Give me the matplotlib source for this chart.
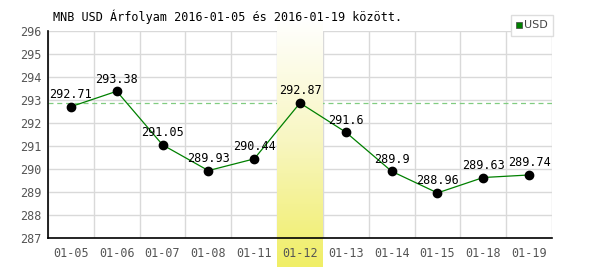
import numpy as np
import matplotlib
matplotlib.use("Agg")
import matplotlib.pyplot as plt
from matplotlib.colors import LinearSegmentedColormap
from matplotlib.patches import Rectangle

dates = ["01-05", "01-06", "01-07", "01-08", "01-11", "01-12",
         "01-13", "01-14", "01-15", "01-18", "01-19"]
rates = [292.71, 293.38, 291.05, 289.93, 290.44, 292.87,
         291.6, 289.9, 288.96, 289.63, 289.74]
labels = ["292.71", "293.38", "291.05", "289.93", "290.44", "292.87",
          "291.6", "289.9", "288.96", "289.63", "289.74"]
highlight = 5
yticks = [287, 288, 289, 290, 291, 292, 293, 294, 295, 296]

plt.rcParams['font.family'] = ['DejaVu Sans Mono']

fig = plt.figure(figsize=(6, 2.7), dpi=100)
ax = fig.add_axes([48/600, 1-238/270, 504/600, 207/270])

x = np.arange(len(dates))
ax.set_xlim(-0.5, len(dates) - 0.5)
ax.set_ylim(287, 296)

# yellow gradient column behind the selected day, running past the axes
ybot = 287 - 29/23.0
ytop = 296 + 12/23.0
grad = np.linspace(0, 1, 256).reshape(-1, 1)
cmap = LinearSegmentedColormap.from_list("yl", ["#ffffff", "#f8f6c0", "#f0ee66"])
ax.imshow(grad, cmap=cmap, aspect="auto", origin="upper",
          extent=[highlight - 0.5, highlight + 0.5, ybot, ytop],
          clip_on=False, zorder=1.5, interpolation="bilinear")

ax.set_xticks(np.arange(len(dates) + 1) - 0.5)
ax.set_xticklabels([])
ax.set_yticks(yticks)
ax.grid(True, color="#d9d9d9", linewidth=1, zorder=0.5)
ax.set_axisbelow(True)
ax.tick_params(length=0, colors="#555555", labelsize=8.5)
ax.tick_params(axis="y", pad=5)
for s in ["top", "right"]:
    ax.spines[s].set_visible(False)
for s in ["left", "bottom"]:
    ax.spines[s].set_color("black")
    ax.spines[s].set_linewidth(1.2)
    ax.spines[s].set_zorder(2.5)

# date labels as text so the one on the yellow column stays on top
for xi, d in zip(x, dates):
    ax.text(xi, -0.045, d, transform=ax.get_xaxis_transform(), ha="center",
            va="top", fontsize=8.5, color="#555555", zorder=6, clip_on=False)

ax.axhline(rates[highlight], color="#80cc80", linestyle=(0, (4, 3)), linewidth=0.9, zorder=1)

ax.plot(x, rates, color="#008000", linewidth=0.9, zorder=3)
ax.plot(x, rates, "o", color="black", markersize=6, zorder=4)
for xi, yi, t in zip(x, rates, labels):
    ax.annotate(t, (xi, yi), xytext=(0, 4), textcoords="offset points",
                ha="center", va="bottom", fontsize=8.5, color="black", zorder=5)

fig.text(53/600, 1-17/270, "MNB USD Árfolyam 2016-01-05 és 2016-01-19 között.",
         fontsize=8.5, ha="left", va="center", color="black")

# legend box
fig.patches.append(Rectangle((511/600, 1-36/270), 42/600, 21/270,
                             transform=fig.transFigure, facecolor="white",
                             edgecolor="#dddddd", linewidth=1, zorder=10))
fig.patches.append(Rectangle((516/600, 1-28/270), 6/600, 6/270,
                             transform=fig.transFigure, facecolor="#008000",
                             edgecolor="#444444", linewidth=0.5, zorder=11))
fig.text(524/600, 1-25.5/270, "USD", fontsize=8, color="#444444",
         ha="left", va="center", family="DejaVu Sans", zorder=12)

fig.savefig("out.png", dpi=100)
